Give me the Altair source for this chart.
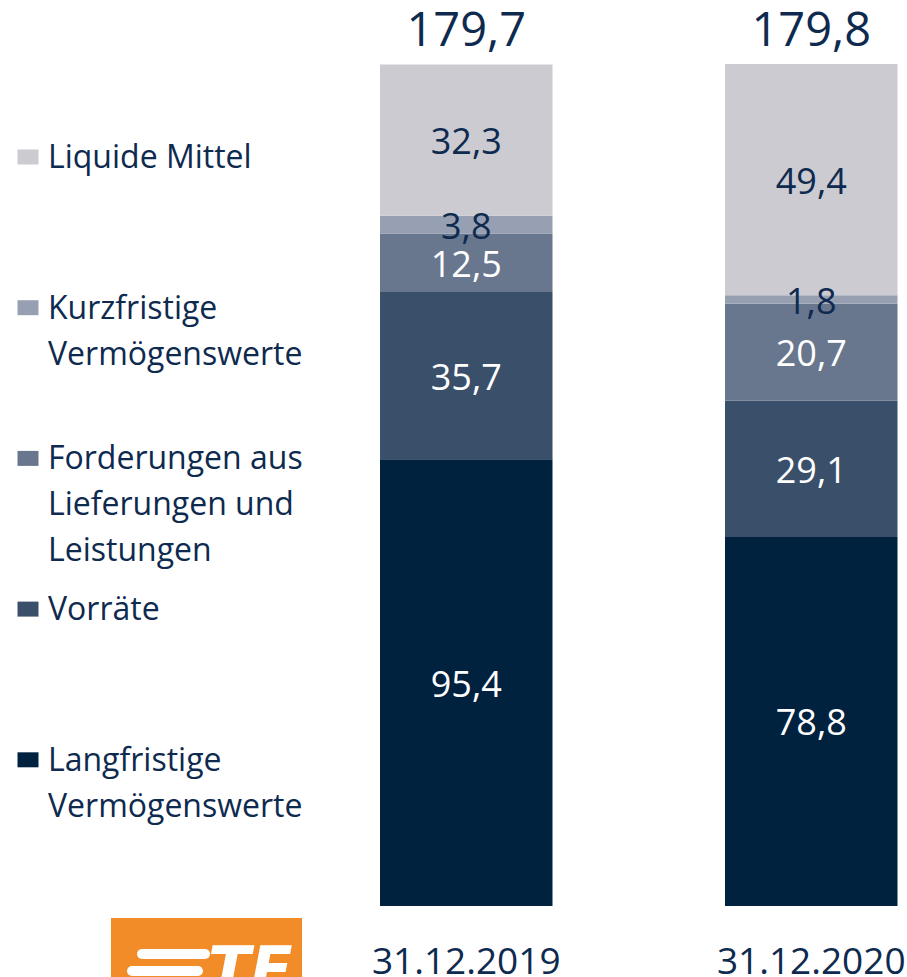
import altair as alt
import pandas as pd

# ---------------- data ----------------
dates = ["31.12.2019", "31.12.2020"]
categories = [
    "Langfristige Vermögenswerte",
    "Vorräte",
    "Forderungen aus Lieferungen und Leistungen",
    "Kurzfristige Vermögenswerte",
    "Liquide Mittel",
]
values_2019 = [95.4, 35.7, 12.5, 3.8, 32.3]
values_2020 = [78.8, 29.1, 20.7, 1.8, 49.4]
totals = [179.7, 179.8]

legend_order = [
    "Liquide Mittel",
    "Kurzfristige Vermögenswerte",
    "Forderungen aus Lieferungen und Leistungen",
    "Vorräte",
    "Langfristige Vermögenswerte",
]
legend_text = [
    "Liquide Mittel",
    "Kurzfristige\nVermögenswerte",
    "Forderungen aus\nLieferungen und\nLeistungen",
    "Vorräte",
    "Langfristige\nVermögenswerte",
]

# ---------------- styles ----------------
seg_colors = ["#00223F", "#3A4F6A", "#68778E", "#97A0B2", "#CBCBD1"]
label_colors = ["#FFFFFF", "#FFFFFF", "#FFFFFF", "#0E2A4F", "#0E2A4F"]
NAVY = "#0E2A4F"
FONT = "Open Sans"


def de(v):
    return f"{v:.1f}".replace(".", ",")


rows = []
for d, vals in zip(dates, [values_2019, values_2020]):
    for i, (c, v) in enumerate(zip(categories, vals)):
        rows.append({"date": d, "category": c, "value": v, "order": i,
                     "label": de(v), "lc": label_colors[i]})
df = pd.DataFrame(rows)

df_tot = pd.DataFrame({"date": dates, "total": totals, "label": [de(t) for t in totals]})

color_map = dict(zip(categories, seg_colors))
df_leg = pd.DataFrame({
    "item": legend_order,
    "text": legend_text,
    "color": [color_map[c] for c in legend_order],
})

ymax = max(totals)
yscale = alt.Scale(domain=[0, ymax], nice=False, zero=True)
xscale = alt.Scale(domain=dates, range=[380, 897.5], paddingInner=0.5, paddingOuter=0)
xenc = alt.X(
    "date:N", scale=xscale, sort=dates,
    axis=alt.Axis(title=None, labelFontSize=37, labelColor=NAVY, labelFont=FONT,
                  ticks=False, domain=False, labelAngle=0, labelPadding=38,
                  labelLimit=0, grid=False),
)

bars = alt.Chart(df).mark_bar().encode(
    x=xenc,
    y=alt.Y("value:Q", stack="zero", scale=yscale, axis=None),
    color=alt.Color("category:N", scale=alt.Scale(domain=categories, range=seg_colors), legend=None),
    order=alt.Order("order:Q", sort="ascending"),
)

labels = alt.Chart(df).transform_stack(
    stack="value", groupby=["date"], as_=["y0", "y1"],
    sort=[alt.SortField("order", order="ascending")],
).transform_calculate(
    mid="(datum.y0 + datum.y1) / 2"
).mark_text(font=FONT, fontSize=36, baseline="middle", dy=3).encode(
    x=alt.X("date:N", scale=xscale, sort=dates),
    y=alt.Y("mid:Q", scale=yscale, axis=None),
    text="label:N",
    color=alt.Color("lc:N", scale=None),
)

tot = alt.Chart(df_tot).mark_text(font=FONT, fontSize=47, baseline="alphabetic",
                                  dy=-18, color=NAVY).encode(
    x=alt.X("date:N", scale=xscale, sort=dates),
    y=alt.Y("total:Q", scale=yscale, axis=None),
    text="label:N",
)

leg_y = alt.Scale(type="point", domain=legend_order, padding=0.7936, align=0.3888)

leg_sq = alt.Chart(df_leg).mark_point(
    shape="M-1,-0.714H1V0.714H-1Z", size=441, filled=True, opacity=1, strokeWidth=0
).encode(
    x=alt.value(28),
    y=alt.Y("item:N", scale=leg_y, axis=None),
    color=alt.Color("color:N", scale=None),
)

leg_tx = alt.Chart(df_leg).mark_text(
    font=FONT, fontSize=32, align="left", baseline="top", lineBreak="\n",
    lineHeight=46, dy=-14, color=NAVY
).encode(
    x=alt.value(48),
    y=alt.Y("item:N", scale=leg_y, axis=None),
    text="text:N",
)

# decorative logo fragment at the lower left
logo_box = alt.Chart(df_tot.head(1)).mark_rect(color="#F28C28").encode(
    x=alt.value(111), x2=alt.value(302), y=alt.value(854), y2=alt.value(940)
)
logo_txt = alt.Chart(df_tot.head(1)).mark_text(
    text="TE", font="DejaVu Sans", fontSize=62, fontWeight="bold", fontStyle="italic",
    color="white", align="left", baseline="top"
).encode(x=alt.value(208), y=alt.value(878))
logo_s1 = alt.Chart(df_tot.head(1)).mark_rule(color="white", strokeWidth=10, strokeCap="round").encode(
    x=alt.value(142), x2=alt.value(205), y=alt.value(890)
)
logo_s2 = alt.Chart(df_tot.head(1)).mark_rule(color="white", strokeWidth=10, strokeCap="round").encode(
    x=alt.value(132), x2=alt.value(198), y=alt.value(907)
)

chart = alt.layer(
    bars, labels, tot, leg_sq, leg_tx, logo_box, logo_s1, logo_s2, logo_txt
).resolve_scale(
    y="independent"
).properties(
    width=907, height=842,
    background="white",
    autosize=alt.AutoSizeParams(type="none"),
    padding={"top": 64, "left": 0, "right": 0, "bottom": 71},
).configure_view(stroke=None, strokeWidth=0)

chart.save("out.html", embed_options={"renderer": "svg", "actions": False})
